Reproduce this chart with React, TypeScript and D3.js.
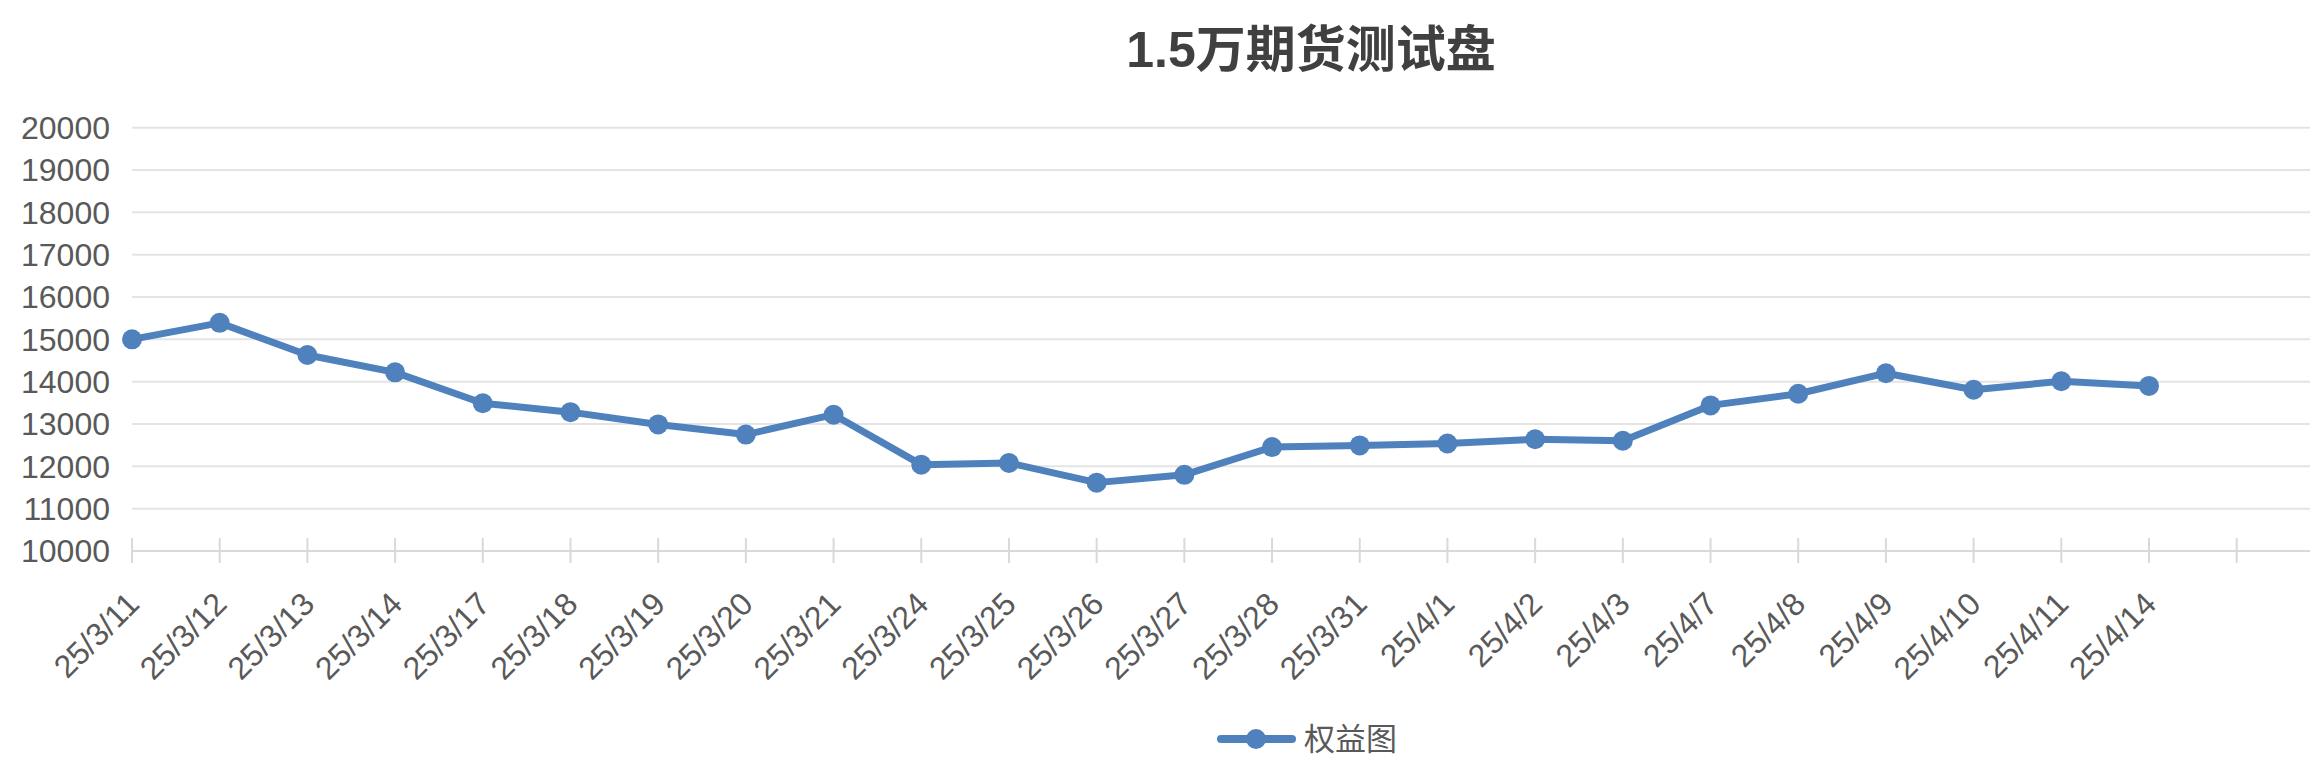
import * as d3 from "d3";

const dates = [
  "25/3/11", "25/3/12", "25/3/13", "25/3/14", "25/3/17", "25/3/18", "25/3/19", "25/3/20",
  "25/3/21", "25/3/24", "25/3/25", "25/3/26", "25/3/27", "25/3/28", "25/3/31", "25/4/1",
  "25/4/2", "25/4/3", "25/4/7", "25/4/8", "25/4/9", "25/4/10", "25/4/11", "25/4/14",
];

const equity = [
  15000, 15390, 14630, 14220, 13490, 13280, 12990, 12750,
  13220, 12040, 12080, 11615, 11800, 12455, 12495, 12540,
  12640, 12605, 13440, 13715, 14200, 13810, 14010, 13900,
];

const title = "1.5万期货测试盘";
const seriesName = "权益图";

const W = 2314;
const H = 774;
const FONT = "'Liberation Sans', Arial, 'Noto Sans CJK SC', sans-serif";
const BLUE = "#4f81bd";
const TEXT = "#595959";

export default function App() {
  const left = 132;
  const gridRight = 2310;
  const x = d3.scalePoint<string>().domain(dates).range([left, 2149]);
  const y = d3.scaleLinear().domain([10000, 20000]).range([551, 127.7]);
  const step = x.step();
  const tickXs = [...dates.map((d) => x(d) ?? 0), (x(dates[dates.length - 1]) ?? 0) + step];

  const line = d3
    .line<number>()
    .x((_, i) => x(dates[i]) ?? 0)
    .y((d) => y(d));

  const yTicks = y.ticks(10);

  return (
    <svg
      width={W}
      height={H}
      style={{ position: "absolute", left: 0, top: 0, background: "#fff" }}
      fontFamily={FONT}
    >
      <text x={1311} y={67} textAnchor="middle" fontSize={50} fontWeight="bold" fill="#404040">
        {title}
      </text>

      {yTicks.map((t) => (
        <g key={t}>
          {t > 10000 && (
            <line x1={left} x2={gridRight} y1={y(t)} y2={y(t)} stroke="#e4e4e4" strokeWidth={2} />
          )}
          <text x={110} y={y(t)} dy="0.35em" textAnchor="end" fontSize={32} fill={TEXT}>
            {t}
          </text>
        </g>
      ))}

      <line x1={left} x2={gridRight} y1={y(10000)} y2={y(10000)} stroke="#d9d9d9" strokeWidth={2} />
      {tickXs.map((tx, i) => (
        <line key={i} x1={tx} x2={tx} y1={y(10000) - 13} y2={y(10000) + 12} stroke="#d9d9d9" strokeWidth={2} />
      ))}

      {dates.map((d) => (
        <text
          key={d}
          transform={`translate(${(x(d) ?? 0) + 9},${y(10000) + 55}) rotate(-45)`}
          textAnchor="end"
          fontSize={32}
          fill={TEXT}
        >
          {d}
        </text>
      ))}

      <path d={line(equity) ?? ""} fill="none" stroke={BLUE} strokeWidth={7} strokeLinejoin="round" />
      {equity.map((v, i) => (
        <circle key={i} cx={x(dates[i]) ?? 0} cy={y(v)} r={10} fill={BLUE} />
      ))}

      <g>
        <line x1={1221} x2={1292} y1={739} y2={739} stroke={BLUE} strokeWidth={8} strokeLinecap="round" />
        <circle cx={1256} cy={739} r={10} fill={BLUE} />
        <text x={1304} y={739} dy="0.35em" fontSize={31} fill={TEXT}>
          {seriesName}
        </text>
      </g>
    </svg>
  );
}
